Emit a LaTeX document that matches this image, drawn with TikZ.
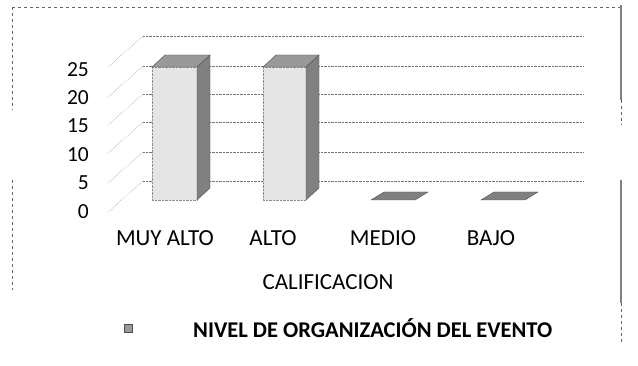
\documentclass[tikz,border=0pt]{standalone}
\usepackage{fontspec}
\setmainfont{Carlito}
\usetikzlibrary{patterns}

\tikzset{
  grid/.style={black!55, densely dotted, thin},
  frame/.style={black!60, dashed, very thin},
  front/.style={fill=black!10, draw=black!45, densely dotted},
  side/.style={fill=black!50, draw=black!70},
  top/.style={fill=black!40, draw=black!70},
  ticklabel/.style={anchor=east, inner sep=0pt, font=\fontsize{21.5}{25}\selectfont},
  catlabel/.style={inner sep=0pt, font=\fontsize{23}{27}\selectfont}
}

\begin{document}
\begin{tikzpicture}[x=1pt, y=-1pt]
		%%%%% START %%%%%
		\useasboundingbox (0, 0) rectangle (638, 366);
		
		% outer frame
		\draw[frame] (12, 7) -- (621, 7);
		\draw[frame] (12, 7) -- (12, 110);
		\draw[frame] (12, 180) -- (12, 290);
		\draw[black!50, line width=1.2pt] (621, 5) -- (621, 100);
		\draw[frame] (621, 100) -- (621, 125);
		\draw[black!50, line width=1.2pt] (621, 180) -- (621, 303);
		\draw[frame] (621, 303) -- (621, 345);
		
		% walls and gridlines
		\foreach \y in {36, 66, 94, 122, 152, 181} {
			\draw[grid] (143, \y) -- (583, \y);
			\draw[grid] (108, \y + 31) -- (143, \y);
		}
		
		% MUY ALTO
		\draw[front] (152, 67) rectangle (197, 200);
		\draw[side] (197, 67) -- (210, 55) -- (210, 188) -- (197, 200) -- cycle;
		\draw[top] (152, 67) -- (165, 55) -- (210, 55) -- (197, 67) -- cycle;
		
		% ALTO
		\draw[front] (263, 67) rectangle (306, 200);
		\draw[side] (306, 67) -- (319, 55) -- (319, 188) -- (306, 200) -- cycle;
		\draw[top] (263, 67) -- (276, 55) -- (319, 55) -- (306, 67) -- cycle;
		
		% MEDIO, BAJO (zero)
		\draw[side] (371, 200) -- (384, 192) -- (428, 192) -- (415, 200) -- cycle;
		\draw[side] (481, 200) -- (494, 192) -- (538, 192) -- (525, 200) -- cycle;
		
		% value axis
		\node[ticklabel] (t25) at (89, 70) {25};
		\node[ticklabel] (t20) at (89, 98) {20};
		\node[ticklabel] (t15) at (89, 126) {15};
		\node[ticklabel] (t10) at (89, 155) {10};
		\node[ticklabel] (t5) at (89, 183) {5};
		\node[ticklabel] (t0) at (89, 212) {0};
		
		% categories
		\node[catlabel] (muyalto) at (165, 238) {MUY ALTO};
		\node[catlabel] (alto) at (273, 238) {ALTO};
		\node[catlabel] (medio) at (383, 238) {MEDIO};
		\node[catlabel] (bajo) at (491, 238) {BAJO};
		\node[catlabel] (calif) at (328, 282) {CALIFICACION};
		
		% legend
		\draw[top] (124, 324) rectangle (132, 332);
		\node[anchor=west, inner sep=0pt, font=\fontsize{22.5}{27}\selectfont\bfseries] (leyenda) at (193, 328) {NIVEL DE ORGANIZACIÓN DEL EVENTO};
		%%%%% END %%%%%
\end{tikzpicture}
\end{document}
